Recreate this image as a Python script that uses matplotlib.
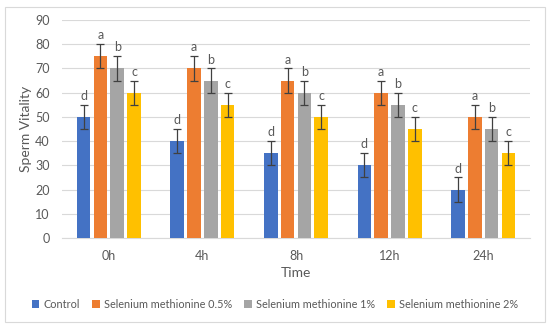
import matplotlib
matplotlib.use("Agg")
import matplotlib.pyplot as plt
from matplotlib.patches import Rectangle
import numpy as np

categories = ["0h", "4h", "8h", "12h", "24h"]
series_names = ["Control", "Selenium methionine 0.5%", "Selenium methionine 1%", "Selenium methionine 2%"]
control = [50, 40, 35, 30, 20]
sm05 = [75, 70, 65, 60, 50]
sm1 = [70, 65, 60, 55, 45]
sm2 = [60, 55, 50, 45, 35]
errors = [5, 5, 5, 5]
letters = ["d", "a", "b", "c"]
colors = ["#4472C4", "#ED7D31", "#A5A5A5", "#FFC000"]

plt.rcParams['font.family'] = ['Lato', 'DejaVu Sans']
txt = "#595959"

fig = plt.figure(figsize=(5.5, 3.28), dpi=100)
ax = fig.add_axes([62/550, 1-238/328, 468/550, 218/328])
fig.patches.append(Rectangle((5/550, 1-322/328), 540/550, 315/328, transform=fig.transFigure,
                             fill=False, edgecolor="#D9D9D9", linewidth=0.8))

x = np.arange(len(categories))
w = 0.145
step = 0.18
all_series = [control, sm05, sm1, sm2]
for i, (vals, name, c, e, lt) in enumerate(zip(all_series, series_names, colors, errors, letters)):
    pos = x + (i - 1.5) * step
    ax.bar(pos, vals, width=w, color=c, label=name, zorder=3)
    ax.errorbar(pos, vals, yerr=e, fmt="none", ecolor="#404040", elinewidth=0.9, capsize=3, capthick=0.9, zorder=4)
    for p, v in zip(pos, vals):
        ax.text(p, v + e + 1.2, lt, ha="center", va="bottom", fontsize=9, color=txt)

ax.set_xlim(-0.5, 4.5)
ax.set_ylim(0, 90)
ax.set_yticks(range(0, 91, 10))
ax.set_xticks(x)
ax.set_xticklabels(categories)
ax.yaxis.grid(True, color="#D9D9D9", linewidth=0.8, zorder=0)
ax.set_axisbelow(True)
for s in ["top", "right", "left"]:
    ax.spines[s].set_visible(False)
ax.spines["bottom"].set_color("#D9D9D9")
ax.tick_params(axis="both", length=0, colors=txt, labelsize=9)
ax.tick_params(axis="x", pad=9)
ax.tick_params(axis="y", pad=9)
ax.set_xlabel("Time", fontsize=10, color=txt, labelpad=3)
ax.set_ylabel("Sperm Vitality", fontsize=10, color=txt, labelpad=2)

fig.legend(loc="center", bbox_to_anchor=(0.5, 1-304/328), ncol=4, frameon=False,
           fontsize=7.8, labelcolor=txt, handlelength=0.7, handleheight=0.7,
           handletextpad=0.4, columnspacing=1.1)

fig.savefig("out.png", dpi=100)
